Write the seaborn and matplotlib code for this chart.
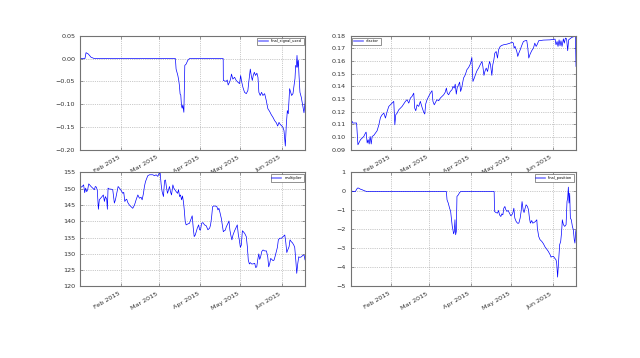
import numpy as np
import pandas as pd
import seaborn as sns
import matplotlib
matplotlib.use("Agg")
import matplotlib.pyplot as plt
import matplotlib.dates as mdates
from matplotlib.ticker import MultipleLocator

# day offsets from the start of the series
start = pd.Timestamp("2015-01-01 12:00")

sig_days = [0, 0.7, 3.7, 4.5, 6.2, 8.2, 10.7, 71.1, 71.6, 72.9, 73.6, 74.1, 74.6, 75.1, 75.6, 76.1,
            76.6, 77.4, 78.1, 79.1, 80.3, 81.6, 106.7, 106.8, 107.7, 109.0, 109.7, 110.4, 111.4,
            112.2, 112.9, 113.9, 115.2, 116.4, 117.7, 118.9, 119.7, 120.4, 121.4, 122.6, 123.9,
            125.1, 125.9, 126.9, 127.6, 128.4, 129.1, 129.9, 130.8, 131.8, 132.6, 133.3, 134.3,
            135.3, 136.3, 137.6, 138.8, 140.0, 141.3, 142.5, 143.8, 145.0, 146.3, 147.3, 148.3,
            149.3, 150.2, 151.2, 152.0, 153.0, 153.7, 154.5, 155.2, 156.2, 157.0, 157.7, 158.7,
            159.5, 160.2, 160.7, 161.2, 161.7, 162.2, 162.7, 163.2, 163.9, 164.9, 166.2, 166.9,
            167.7, 168.0]
sig_vals = [0.005, 0.0, 0.0, 0.013, 0.010, 0.003, 0.0, 0.0, -0.023, -0.037, -0.048, -0.060, -0.078,
            -0.080, -0.103, -0.109, -0.102, -0.118, -0.015, -0.012, -0.004, 0.0, 0.0, -0.048,
            -0.049, -0.050, -0.047, -0.058, -0.052, -0.045, -0.034, -0.045, -0.041, -0.048,
            -0.052, -0.055, -0.037, -0.050, -0.063, -0.074, -0.077, -0.070, -0.048, -0.023,
            -0.037, -0.048, -0.037, -0.030, -0.037, -0.032, -0.041, -0.074, -0.081, -0.074,
            -0.081, -0.077, -0.092, -0.110, -0.116, -0.123, -0.129, -0.136, -0.141, -0.148,
            -0.140, -0.145, -0.147, -0.151, -0.158, -0.192, -0.147, -0.114, -0.121, -0.066,
            -0.074, -0.081, -0.077, -0.059, -0.044, -0.015, -0.019, 0.007, -0.019, -0.004,
            -0.037, -0.074, -0.085, -0.107, -0.119, -0.096, -0.050]

vf_days = [0, 1.2, 1.6, 4.5, 5.5, 7.4, 8.7, 9.9, 11.1, 11.6, 12.4, 13.1, 13.9, 14.6, 15.4, 16.1,
           17.3, 18.6, 19.8, 21.1, 22.3, 23.5, 24.8, 26.0, 27.3, 28.5, 29.7, 31.0, 32.2, 33.0,
           33.7, 34.7, 35.9, 37.2, 38.4, 39.6, 40.9, 42.1, 43.4, 44.6, 45.8, 47.1, 47.8, 48.6,
           49.6, 50.8, 52.0, 53.3, 54.5, 55.3, 56.0, 57.0, 58.2, 59.5, 60.7, 61.4, 62.4, 63.4,
           64.4, 65.7, 66.9, 68.1, 69.4, 70.6, 71.4, 72.1, 73.1, 74.3, 75.6, 76.3, 77.3, 78.0,
           78.8, 79.5, 80.3, 81.3, 82.0, 82.8, 83.5, 84.2, 85.5, 86.7, 88.0, 89.2, 90.4, 91.2,
           92.2, 93.2, 94.2, 95.4, 96.6, 97.9, 98.6, 99.4, 100.1, 101.1, 102.1, 102.8, 103.6,
           104.3, 105.3, 106.0, 106.8, 107.5, 108.5, 109.5, 110.3, 111.5, 112.7, 114.0, 116.5,
           118.9, 120.2, 121.4, 121.9, 122.6, 123.9, 124.6, 125.4, 126.4, 127.6, 128.8, 130.1,
           131.3, 132.1, 132.8, 133.8, 135.0, 136.3, 137.3, 138.3, 139.2, 140.2, 143.7, 148.7,
           152.4, 153.1, 153.9, 154.6, 155.4, 156.1, 156.8, 157.6, 158.6, 159.3, 160.1, 161.0,
           161.8, 162.5, 163.5, 164.8, 166.0, 167.2, 167.6, 168.0]
vf_vals = [0.1124, 0.1124, 0.1111, 0.1111, 0.0939, 0.0979, 0.0992, 0.1005, 0.1032, 0.1039, 0.0953,
           0.0979, 0.0945, 0.1005, 0.0945, 0.1005, 0.1013, 0.1032, 0.1050, 0.1097, 0.1155, 0.1176,
           0.1189, 0.1150, 0.1203, 0.1242, 0.1255, 0.1268, 0.1282, 0.1097, 0.1176, 0.1189, 0.1215,
           0.1229, 0.1242, 0.1261, 0.1282, 0.1295, 0.1268, 0.1308, 0.1321, 0.1347, 0.1229, 0.1208,
           0.1255, 0.1242, 0.1282, 0.1234, 0.1197, 0.1182, 0.1261, 0.1295, 0.1321, 0.1347, 0.1366,
           0.1282, 0.1255, 0.1276, 0.1295, 0.1287, 0.1308, 0.1321, 0.1334, 0.1355, 0.1387, 0.1347,
           0.1334, 0.1360, 0.1374, 0.1400, 0.1387, 0.1418, 0.1339, 0.1392, 0.1408, 0.1434, 0.1360,
           0.1387, 0.1426, 0.1466, 0.1492, 0.1532, 0.1550, 0.1576, 0.1629, 0.1439, 0.1466, 0.1497,
           0.1524, 0.1545, 0.1571, 0.1597, 0.1558, 0.1487, 0.1518, 0.1545, 0.1518, 0.1558, 0.1597,
           0.1571, 0.1487, 0.1571, 0.1611, 0.1663, 0.1676, 0.1624, 0.1689, 0.1716, 0.1724, 0.1729,
           0.1734, 0.1742, 0.1750, 0.1742, 0.1703, 0.1716, 0.1676, 0.1637, 0.1663, 0.1689, 0.1724,
           0.1755, 0.1761, 0.1763, 0.1703, 0.1624, 0.1655, 0.1682, 0.1703, 0.1742, 0.1716, 0.1734,
           0.1761, 0.1766, 0.1768, 0.1774, 0.1729, 0.1755, 0.1716, 0.1768, 0.1721, 0.1761, 0.1716,
           0.1776, 0.1742, 0.1782, 0.1776, 0.1682, 0.1768, 0.1776, 0.1787, 0.1792, 0.1795, 0.1795,
           0.1558]

mult_days = [0, 0.5, 1.2, 2.0, 2.7, 3.5, 4.2, 5.0, 5.7, 6.5, 7.2, 8.2, 9.5, 10.7, 11.4, 12.2, 12.9,
             13.7, 14.4, 15.4, 16.4, 17.4, 18.2, 18.9, 19.9, 20.4, 20.9, 21.9, 23.1, 24.4, 25.6,
             26.4, 27.4, 28.4, 29.4, 30.6, 31.9, 32.6, 33.4, 34.1, 34.8, 35.6, 36.8, 38.1, 39.3,
             40.6, 41.8, 43.1, 44.3, 45.5, 46.3, 47.3, 48.0, 48.8, 49.8, 50.5, 51.8, 54.3, 55.5,
             56.7, 58.0, 58.7, 59.7, 60.5, 61.2, 62.2, 63.0, 63.7, 64.5, 65.2, 66.0, 66.7, 67.4,
             68.2, 69.2, 69.9, 70.7, 71.7, 72.7, 73.4, 74.2, 74.9, 75.7, 76.4, 77.2, 77.7, 78.4,
             79.1, 80.4, 81.6, 82.9, 83.6, 84.4, 85.1, 85.9, 86.6, 87.4, 88.4, 89.1, 89.8, 90.6,
             91.6, 92.8, 94.1, 95.3, 96.6, 97.3, 98.1, 98.8, 99.6, 100.8, 102.0, 102.8, 103.5,
             104.3, 105.3, 106.0, 106.8, 107.5, 108.3, 109.0, 110.3, 111.0, 111.7, 112.5, 113.2,
             114.0, 115.2, 116.5, 117.2, 118.0, 118.7, 119.5, 120.2, 121.0, 121.7, 122.7, 123.9,
             124.7, 125.4, 126.2, 126.9, 127.9, 128.9, 130.2, 130.9, 131.7, 132.4, 133.2, 133.9,
             134.6, 135.4, 136.4, 137.6, 138.9, 139.9, 140.6, 141.4, 142.1, 142.9, 143.9, 144.6,
             145.3, 146.3, 147.1, 147.8, 148.8, 150.1, 151.3, 152.6, 153.3, 154.1, 154.8, 155.8,
             156.5, 157.5, 158.3, 159.3, 160.0, 160.8, 161.5, 162.3, 163.0, 163.8, 165.0, 166.2,
             167.0, 167.7, 168.0]
mult_vals = [148.6, 150.7, 150.5, 150.9, 151.2, 148.8, 150.2, 149.1, 149.7, 151.5, 151.2, 150.7,
             150.2, 149.7, 150.7, 150.5, 149.5, 143.7, 146.6, 147.1, 147.6, 148.1, 146.1, 147.6,
             146.8, 143.7, 150.2, 149.9, 149.9, 149.7, 145.6, 146.6, 148.6, 150.7, 150.2, 149.5,
             148.6, 148.9, 146.1, 146.6, 146.8, 145.8, 145.0, 144.5, 144.0, 145.0, 146.6, 148.1,
             147.1, 147.4, 146.6, 148.6, 150.7, 152.2, 153.3, 154.0, 154.3, 154.3, 154.0, 154.3,
             153.8, 154.6, 155.0, 151.2, 149.1, 147.6, 152.5, 152.7, 150.2, 148.6, 149.7, 150.7,
             149.1, 148.1, 151.2, 150.2, 149.7, 149.1, 148.6, 149.7, 147.6, 148.1, 146.6, 147.8,
             145.6, 143.5, 139.9, 138.9, 139.2, 139.4, 140.9, 141.7, 137.9, 135.3, 135.8, 136.8,
             137.9, 138.9, 137.4, 137.3, 139.4, 139.6, 138.9, 138.6, 137.4, 137.9, 138.9, 141.4,
             144.5, 144.7, 144.7, 144.5, 143.5, 144.0, 142.7, 140.9, 138.9, 136.8, 137.1, 137.3,
             138.3, 139.4, 140.1, 137.3, 135.5, 134.3, 135.8, 137.1, 138.3, 138.9, 135.8, 134.3,
             132.0, 132.7, 137.1, 136.8, 136.3, 135.3, 132.2, 128.1, 126.9, 127.3, 126.9, 126.9,
             127.1, 125.8, 126.0, 128.1, 130.0, 128.3, 129.1, 130.7, 131.2, 130.9, 130.9, 129.1,
             126.0, 127.1, 128.6, 128.3, 127.9, 128.1, 129.1, 130.7, 132.0, 134.3, 134.8, 134.8,
             135.3, 135.8, 133.7, 130.4, 131.2, 132.2, 134.3, 133.7, 133.4, 132.7, 132.0, 128.1,
             124.0, 127.1, 129.1, 128.9, 129.1, 129.6, 129.6, 128.1, 128.6]

pos_days = [0, 0.7, 1.5, 3.7, 4.5, 5.5, 6.4, 7.4, 8.7, 9.9, 11.1, 11.9, 71.4, 71.9, 72.8, 73.8,
            74.6, 75.1, 75.8, 76.3, 76.8, 77.3, 77.8, 78.3, 78.8, 79.3, 80.3, 81.3, 82.3, 107.0,
            107.3, 108.3, 109.5, 110.3, 111.0, 112.0, 112.7, 113.5, 114.2, 115.0, 115.7, 116.5,
            117.4, 118.4, 119.4, 120.2, 120.9, 121.7, 122.4, 123.4, 124.4, 125.4, 126.4, 127.1,
            127.8, 128.6, 129.3, 130.1, 130.8, 131.8, 132.6, 133.3, 134.0, 135.0, 135.8, 136.8,
            137.8, 138.8, 139.2, 140.2, 141.2, 142.5, 143.7, 145.0, 146.2, 147.4, 148.7, 149.4,
            150.2, 151.2, 152.1, 153.1, 153.6, 154.3, 155.1, 155.8, 156.6, 157.3, 157.8, 158.6,
            159.6, 160.6, 161.3, 161.8, 162.3, 162.8, 163.3, 163.8, 164.5, 165.3, 166.0, 166.7,
            167.2, 167.7, 168.0]
pos_vals = [0.09, 0.04, 0.0, 0.0, 0.12, 0.19, 0.16, 0.12, 0.09, 0.05, 0.02, 0.0, 0.0, -0.44, -0.61,
            -0.88, -1.05, -1.40, -1.84, -2.02, -2.23, -2.11, -1.49, -2.28, -2.11, -0.26, -0.18,
            -0.05, 0.0, 0.0, -1.05, -1.11, -1.14, -1.00, -1.23, -1.32, -1.18, -1.23, -0.88, -0.79,
            -0.96, -1.05, -1.00, -1.14, -1.28, -1.23, -1.14, -0.88, -1.40, -1.58, -1.67, -1.67,
            -1.40, -1.05, -0.53, -0.96, -1.11, -0.88, -0.70, -0.79, -0.96, -1.40, -1.67, -1.53,
            -1.67, -1.63, -1.58, -1.49, -1.93, -2.37, -2.54, -2.63, -2.75, -2.93, -3.04, -3.16,
            -3.33, -3.46, -3.42, -3.42, -3.51, -3.60, -3.77, -4.51, -3.60, -2.81, -2.63, -2.11,
            -1.49, -1.75, -1.84, -1.75, -0.53, -0.35, 0.23, -0.61, -0.09, -1.40, -1.49, -1.84,
            -2.02, -2.54, -2.72, -2.20, -2.02]

panels = [
    (sig_days, sig_vals, "final_signal_used", (-0.20, 0.05), 0.05, "upper right"),
    (vf_days, vf_vals, "vfactor", (0.09, 0.18), 0.01, "upper left"),
    (mult_days, mult_vals, "multiplier", (120, 155), 5, "upper right"),
    (pos_days, pos_vals, "final_position", (-5, 1), 1, "upper right"),
]

plt.rcParams["font.family"] = ["DejaVu Sans"]
plt.rcParams["axes.unicode_minus"] = True

fig, axes = plt.subplots(2, 2, figsize=(6.4, 3.58), dpi=100)
fig.patch.set_facecolor("white")
fig.subplots_adjust(left=0.125, right=0.9, bottom=0.2, top=0.9, wspace=0.2, hspace=0.2)

x_lo = start
x_hi = start + pd.Timedelta(days=168)

for ax, (days, vals, name, ylim, step, loc) in zip(axes.flat, panels):
    dates = start + pd.to_timedelta(np.array(days), unit="D")
    sns.lineplot(x=dates, y=vals, ax=ax, color="b", linewidth=0.5, estimator=None,
                 label=name, sort=False)
    ax.set_xlim(x_lo, x_hi)
    ax.set_ylim(*ylim)
    ax.yaxis.set_major_locator(MultipleLocator(step))
    ax.xaxis.set_major_locator(mdates.MonthLocator())
    ax.xaxis.set_major_formatter(mdates.DateFormatter("%b %Y"))
    ax.set_xlabel("")
    ax.set_ylabel("")
    ax.grid(True, color="0.6", linestyle=":", linewidth=0.5)
    for s in ax.spines.values():
        s.set_color("0.45")
        s.set_linewidth(0.8)
    ax.tick_params(direction="in", length=2.5, width=0.5, colors="0.45",
                   labelsize=4.6, labelcolor="0.2", top=True, right=True)
    for lab in ax.get_xticklabels():
        lab.set_rotation(30)
        lab.set_ha("right")
    leg = ax.legend(loc=loc, fontsize=2.6, handlelength=2.5, borderpad=0.5,
                    fancybox=False, framealpha=1)
    leg.get_frame().set_edgecolor("0.4")
    leg.get_frame().set_linewidth(0.5)
    for h in leg.get_lines():
        h.set_linewidth(1.2)
        h.set_alpha(0.5)

fig.savefig("out.png", dpi=100, facecolor="white")
